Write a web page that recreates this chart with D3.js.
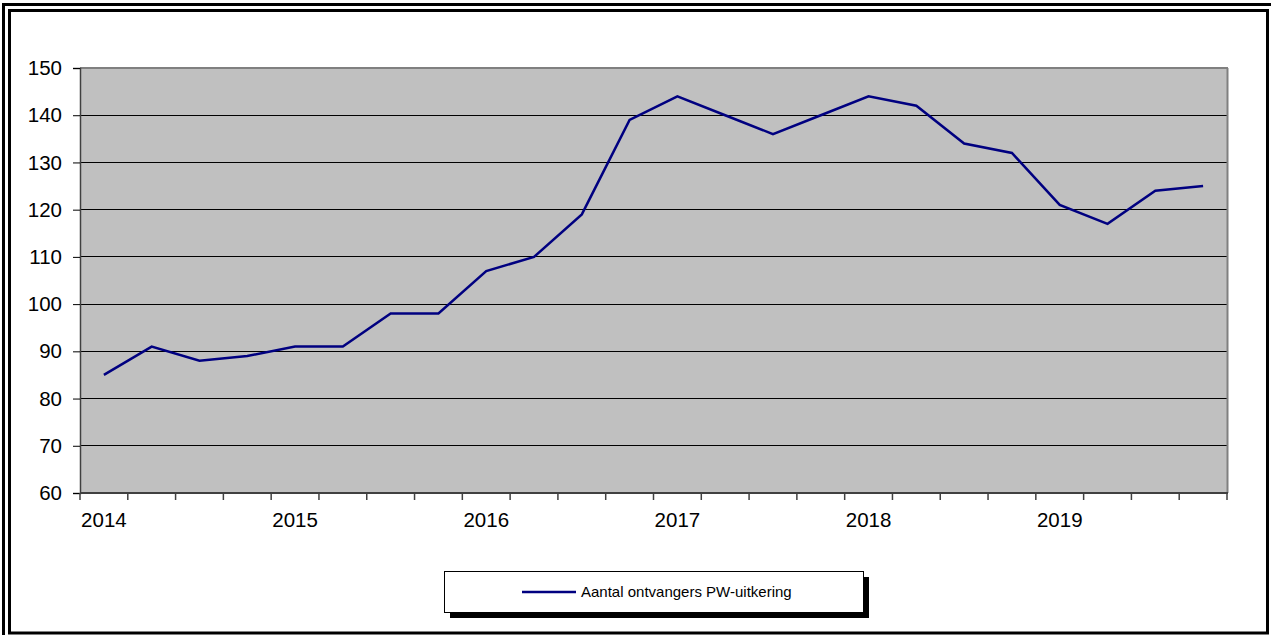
<!DOCTYPE html>
<html><head><meta charset="utf-8">
<script src="https://cdn.jsdelivr.net/npm/d3@7/dist/d3.min.js"></script>
<style>body{margin:0;background:#fff}svg{display:block}text{font-family:Arial,"Liberation Sans",sans-serif}</style>
</head><body><svg id="c" width="1271" height="635"></svg>
<script>
const quarters = ["2014Q1","2014Q2","2014Q3","2014Q4","2015Q1","2015Q2","2015Q3","2015Q4","2016Q1","2016Q2","2016Q3","2016Q4","2017Q1","2017Q2","2017Q3","2017Q4","2018Q1","2018Q2","2018Q3","2018Q4","2019Q1","2019Q2","2019Q3","2019Q4"];
const values = [85,91,88,89,91,91,98,98,107,110,119,139,144,140,136,140,144,142,134,132,121,117,124,125];
const yearLabels = {"2014Q1":"2014","2015Q1":"2015","2016Q1":"2016","2017Q1":"2017","2018Q1":"2018","2019Q1":"2019"};
const yTicks = [60,70,80,90,100,110,120,130,140,150];
const seriesName = "Aantal ontvangers PW-uitkering";

const svg = d3.select("#c");
// frames
svg.append("rect").attr("x",3.5).attr("y",4.5).attr("width",1300).attr("height",700).attr("fill","none").attr("stroke","#000").attr("stroke-width",3);
svg.append("rect").attr("x",9.5).attr("y",10.5).attr("width",1258).attr("height",622.5).attr("fill","none").attr("stroke","#000").attr("stroke-width",3);

const L=80,R=1227,T=68,B=493;
const x = d3.scaleBand().domain(quarters).range([L,R]);
const y = d3.scaleLinear().domain([60,150]).range([B,T]);

svg.append("rect").attr("x",L).attr("y",T).attr("width",R-L).attr("height",B-T).attr("fill","#C0C0C0");
// gridlines
svg.append("g").selectAll("line").data(yTicks.filter(d=>d>60&&d<150)).join("line")
  .attr("x1",L).attr("x2",R).attr("y1",d=>y(d)).attr("y2",d=>y(d)).attr("stroke","#000").attr("stroke-width",1).attr("shape-rendering","crispEdges");
// plot border top/right
svg.append("line").attr("x1",L).attr("x2",R+1).attr("y1",T).attr("y2",T).attr("stroke","#808080").attr("stroke-width",2);
svg.append("line").attr("x1",R+0.5).attr("x2",R+0.5).attr("y1",T).attr("y2",B).attr("stroke","#808080").attr("stroke-width",2);

// y axis
const yAxis = d3.axisLeft(y).tickValues(yTicks).tickSize(7).tickPadding(11);
const gy = svg.append("g").attr("transform",`translate(${L},0)`).call(yAxis);
gy.select(".domain").attr("stroke","#404040").attr("stroke-width",1.5);
gy.selectAll(".tick line").attr("stroke","#000");
gy.selectAll("text").attr("font-size",20.5).attr("fill","#000").style("font-family","Arial");

// x axis
const boundaries = quarters.map(q=>x(q)).concat([R]);
const gx = svg.append("g");
gx.append("line").attr("x1",L).attr("x2",R+1).attr("y1",B).attr("y2",B).attr("stroke","#404040").attr("stroke-width",2);
gx.selectAll("line.t").data(boundaries).join("line").attr("class","t")
  .attr("x1",d=>d).attr("x2",d=>d).attr("y1",B).attr("y2",B+7).attr("stroke","#404040").attr("stroke-width",1.5);
gx.selectAll("text").data(quarters.filter(q=>yearLabels[q])).join("text")
  .attr("x",d=>x(d)+x.bandwidth()/2).attr("y",B+34).attr("text-anchor","middle")
  .attr("font-size",20.5).attr("fill","#000").text(d=>yearLabels[d]);

// line
const line = d3.line().x((d,i)=>x(quarters[i])+x.bandwidth()/2).y(d=>y(d));
svg.append("path").datum(values).attr("d",line).attr("fill","none").attr("stroke","#000080").attr("stroke-width",2.5).attr("stroke-linejoin","miter");

// legend
const lg = svg.append("g");
lg.append("rect").attr("x",450).attr("y",577).attr("width",419).attr("height",41).attr("fill","#000");
lg.append("rect").attr("x",444.5).attr("y",571.5).attr("width",419).attr("height",41).attr("fill","#fff").attr("stroke","#000").attr("stroke-width",1);
lg.append("line").attr("x1",522).attr("x2",576).attr("y1",592).attr("y2",592).attr("stroke","#000080").attr("stroke-width",2.5);
lg.append("text").attr("x",581).attr("y",597).attr("font-size",15).attr("fill","#000").text(seriesName);
</script></body></html>
